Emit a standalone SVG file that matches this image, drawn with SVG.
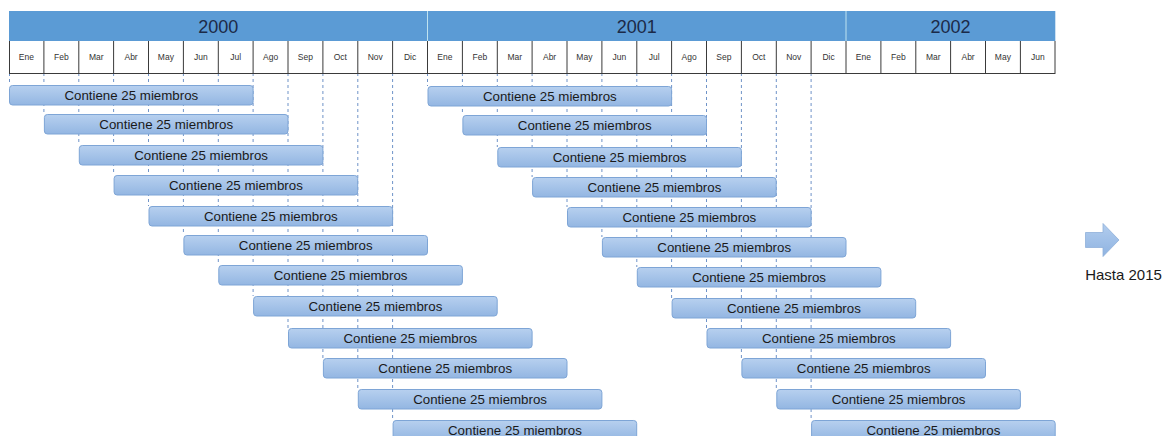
<svg xmlns="http://www.w3.org/2000/svg" width="1167" height="436" viewBox="0 0 1167 436">
<defs>
<linearGradient id="barg" x1="0" y1="0" x2="0" y2="1">
<stop offset="0" stop-color="#b7d0ef"/>
<stop offset="1" stop-color="#93b6e2"/>
</linearGradient>
<linearGradient id="arrg" x1="0" y1="0" x2="0" y2="1">
<stop offset="0" stop-color="#b2cdee"/>
<stop offset="1" stop-color="#8fb3e1"/>
</linearGradient>
<style>
.yr{fill:#5b9bd5}
.yt{font-family:"Liberation Sans",Arial,sans-serif;font-size:18px;fill:#1b2a48;text-anchor:middle}
.mt{font-family:"Liberation Sans",Arial,sans-serif;font-size:8.5px;fill:#333;text-anchor:middle}
.bar{fill:url(#barg);stroke:#7ea5d6;stroke-width:1}
.bt{font-family:"Liberation Sans",Arial,sans-serif;font-size:13.3px;fill:#1a1a1a;text-anchor:middle}
.dl{stroke:#6f93c8;stroke-width:1;stroke-dasharray:3 3;fill:none}
.mline{stroke:#3a3a3a;stroke-width:1;fill:none}
</style>
</defs>
<rect width="1167" height="436" fill="#ffffff"/>

<g id="connectors">
<path class="dl" d="M9.5 73V85 M43.9 73V114 M78.8 73V145 M113.6 73V175 M148.5 73V206 M183.4 73V235 M218.3 73V265 M253.1 73V296 M288 73V328 M322.9 73V358 M357.8 73V389 M392.6 73V420 M427.5 73V86 M462.4 73V115 M497.3 73V147 M532.1 73V177 M567 73V207 M601.9 73V237 M636.8 73V267 M671.6 73V298 M706.5 73V328 M741.4 73V358 M776.3 73V389 M811.1 73V420"/>
</g>

<g id="year-2000"><rect class="yr" x="9" y="11" width="418.5" height="30"/><text class="yt" x="218.3" y="33">2000</text></g>
<g id="year-2001"><rect class="yr" x="427.5" y="11" width="418.5" height="30"/><text class="yt" x="636.8" y="33">2001</text></g>
<g id="year-2002"><rect class="yr" x="846" y="11" width="209.3" height="30"/><text class="yt" x="950.6" y="33">2002</text></g>
<path d="M427.5 11V41 M846 11V41" stroke="#bfe3f0" stroke-width="1"/>

<g id="months">
<rect x="9" y="41" width="1046.3" height="32" fill="#ffffff"/>
<g id="m00"><text class="mt" x="26.4" y="60">Ene</text></g>
<g id="m01"><text class="mt" x="61.3" y="60">Feb</text></g>
<g id="m02"><text class="mt" x="96.2" y="60">Mar</text></g>
<g id="m03"><text class="mt" x="131.1" y="60">Abr</text></g>
<g id="m04"><text class="mt" x="165.9" y="60">May</text></g>
<g id="m05"><text class="mt" x="200.8" y="60">Jun</text></g>
<g id="m06"><text class="mt" x="235.7" y="60">Jul</text></g>
<g id="m07"><text class="mt" x="270.6" y="60">Ago</text></g>
<g id="m08"><text class="mt" x="305.4" y="60">Sep</text></g>
<g id="m09"><text class="mt" x="340.3" y="60">Oct</text></g>
<g id="m10"><text class="mt" x="375.2" y="60">Nov</text></g>
<g id="m11"><text class="mt" x="410.1" y="60">Dic</text></g>
<g id="m12"><text class="mt" x="444.9" y="60">Ene</text></g>
<g id="m13"><text class="mt" x="479.8" y="60">Feb</text></g>
<g id="m14"><text class="mt" x="514.7" y="60">Mar</text></g>
<g id="m15"><text class="mt" x="549.6" y="60">Abr</text></g>
<g id="m16"><text class="mt" x="584.4" y="60">May</text></g>
<g id="m17"><text class="mt" x="619.3" y="60">Jun</text></g>
<g id="m18"><text class="mt" x="654.2" y="60">Jul</text></g>
<g id="m19"><text class="mt" x="689.1" y="60">Ago</text></g>
<g id="m20"><text class="mt" x="723.9" y="60">Sep</text></g>
<g id="m21"><text class="mt" x="758.8" y="60">Oct</text></g>
<g id="m22"><text class="mt" x="793.7" y="60">Nov</text></g>
<g id="m23"><text class="mt" x="828.6" y="60">Dic</text></g>
<g id="m24"><text class="mt" x="863.4" y="60">Ene</text></g>
<g id="m25"><text class="mt" x="898.3" y="60">Feb</text></g>
<g id="m26"><text class="mt" x="933.2" y="60">Mar</text></g>
<g id="m27"><text class="mt" x="968.1" y="60">Abr</text></g>
<g id="m28"><text class="mt" x="1002.9" y="60">May</text></g>
<g id="m29"><text class="mt" x="1037.8" y="60">Jun</text></g>
<path class="mline" d="M9.5 41V73 M43.9 41V73 M78.8 41V73 M113.6 41V73 M148.5 41V73 M183.4 41V73 M218.3 41V73 M253.1 41V73 M288 41V73 M322.9 41V73 M357.8 41V73 M392.6 41V73 M427.5 41V73 M462.4 41V73 M497.3 41V73 M532.1 41V73 M567 41V73 M601.9 41V73 M636.8 41V73 M671.6 41V73 M706.5 41V73 M741.4 41V73 M776.3 41V73 M811.1 41V73 M846 41V73 M880.9 41V73 M915.8 41V73 M950.6 41V73 M985.5 41V73 M1020.4 41V73 M1055 41V73 M9 73.5H1055.5"/>
</g>

<g id="bar-a00"><rect class="bar" x="9.5" y="85.5" width="243.6" height="19.5" rx="3"/><text class="bt" x="131.3" y="99.5">Contiene 25 miembros</text></g>
<g id="bar-a01"><rect class="bar" x="44.4" y="114.5" width="243.6" height="19.5" rx="3"/><text class="bt" x="166.2" y="128.5">Contiene 25 miembros</text></g>
<g id="bar-a02"><rect class="bar" x="79.3" y="145.5" width="243.6" height="19.5" rx="3"/><text class="bt" x="201.1" y="159.5">Contiene 25 miembros</text></g>
<g id="bar-a03"><rect class="bar" x="114.1" y="175.5" width="243.6" height="19.5" rx="3"/><text class="bt" x="235.9" y="189.5">Contiene 25 miembros</text></g>
<g id="bar-a04"><rect class="bar" x="149" y="206.5" width="243.6" height="19.5" rx="3"/><text class="bt" x="270.8" y="220.5">Contiene 25 miembros</text></g>
<g id="bar-a05"><rect class="bar" x="183.9" y="235.5" width="243.6" height="19.5" rx="3"/><text class="bt" x="305.7" y="249.5">Contiene 25 miembros</text></g>
<g id="bar-a06"><rect class="bar" x="218.8" y="265.5" width="243.6" height="19.5" rx="3"/><text class="bt" x="340.6" y="279.5">Contiene 25 miembros</text></g>
<g id="bar-a07"><rect class="bar" x="253.6" y="296.5" width="243.6" height="19.5" rx="3"/><text class="bt" x="375.4" y="310.5">Contiene 25 miembros</text></g>
<g id="bar-a08"><rect class="bar" x="288.5" y="328.5" width="243.6" height="19.5" rx="3"/><text class="bt" x="410.3" y="342.5">Contiene 25 miembros</text></g>
<g id="bar-a09"><rect class="bar" x="323.4" y="358.5" width="243.6" height="19.5" rx="3"/><text class="bt" x="445.2" y="372.5">Contiene 25 miembros</text></g>
<g id="bar-a10"><rect class="bar" x="358.3" y="389.5" width="243.6" height="19.5" rx="3"/><text class="bt" x="480.1" y="403.5">Contiene 25 miembros</text></g>
<g id="bar-a11"><rect class="bar" x="393.1" y="420.5" width="243.6" height="19.5" rx="3"/><text class="bt" x="514.9" y="434.5">Contiene 25 miembros</text></g>

<g id="bar-b00"><rect class="bar" x="428" y="86.5" width="243.6" height="19.5" rx="3"/><text class="bt" x="549.8" y="100.5">Contiene 25 miembros</text></g>
<g id="bar-b01"><rect class="bar" x="462.9" y="115.5" width="243.6" height="19.5" rx="3"/><text class="bt" x="584.7" y="129.5">Contiene 25 miembros</text></g>
<g id="bar-b02"><rect class="bar" x="497.8" y="147.5" width="243.6" height="19.5" rx="3"/><text class="bt" x="619.6" y="161.5">Contiene 25 miembros</text></g>
<g id="bar-b03"><rect class="bar" x="532.6" y="177.5" width="243.6" height="19.5" rx="3"/><text class="bt" x="654.4" y="191.5">Contiene 25 miembros</text></g>
<g id="bar-b04"><rect class="bar" x="567.5" y="207.5" width="243.6" height="19.5" rx="3"/><text class="bt" x="689.3" y="221.5">Contiene 25 miembros</text></g>
<g id="bar-b05"><rect class="bar" x="602.4" y="237.5" width="243.6" height="19.5" rx="3"/><text class="bt" x="724.2" y="251.5">Contiene 25 miembros</text></g>
<g id="bar-b06"><rect class="bar" x="637.3" y="267.5" width="243.6" height="19.5" rx="3"/><text class="bt" x="759.1" y="281.5">Contiene 25 miembros</text></g>
<g id="bar-b07"><rect class="bar" x="672.1" y="298.5" width="243.6" height="19.5" rx="3"/><text class="bt" x="793.9" y="312.5">Contiene 25 miembros</text></g>
<g id="bar-b08"><rect class="bar" x="707" y="328.5" width="243.6" height="19.5" rx="3"/><text class="bt" x="828.8" y="342.5">Contiene 25 miembros</text></g>
<g id="bar-b09"><rect class="bar" x="741.9" y="358.5" width="243.6" height="19.5" rx="3"/><text class="bt" x="863.7" y="372.5">Contiene 25 miembros</text></g>
<g id="bar-b10"><rect class="bar" x="776.8" y="389.5" width="243.6" height="19.5" rx="3"/><text class="bt" x="898.6" y="403.5">Contiene 25 miembros</text></g>
<g id="bar-b11"><rect class="bar" x="811.6" y="420.5" width="243.6" height="19.5" rx="3"/><text class="bt" x="933.4" y="434.5">Contiene 25 miembros</text></g>

<g id="arrow-hasta">
<path d="M1085.5 232.5H1103V223.5L1119 240L1103 256.5V247.5H1085.5Z" fill="url(#arrg)" stroke="#8fb0d9" stroke-width="0.8"/>
<text x="1123.5" y="280" font-family="'Liberation Sans',Arial,sans-serif" font-size="15" fill="#1a1a1a" text-anchor="middle">Hasta 2015</text>
</g>
</svg>
